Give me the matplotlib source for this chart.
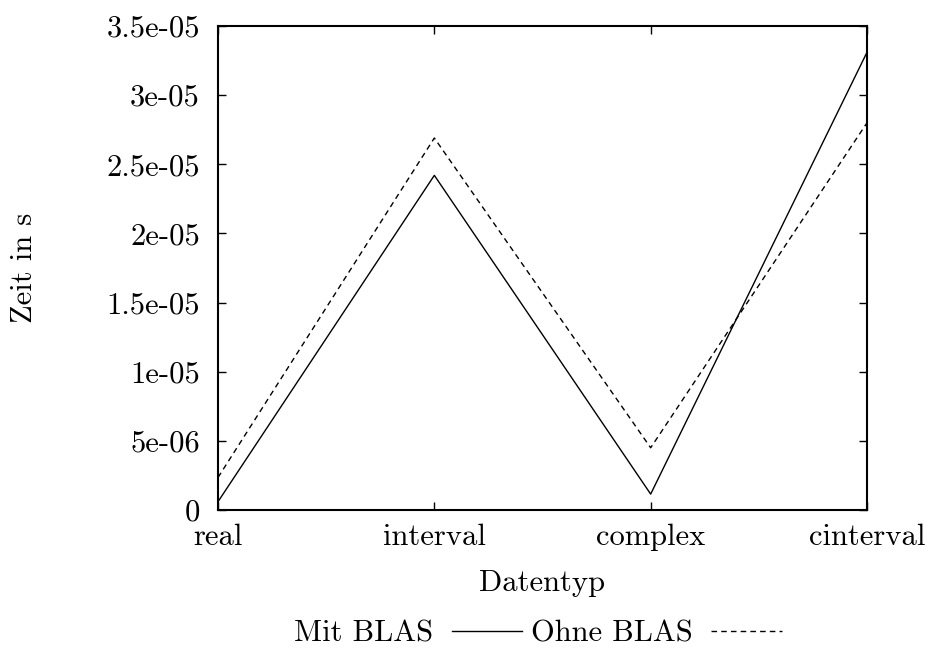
import matplotlib
matplotlib.use("Agg")
import matplotlib.pyplot as plt

categories = ["real", "interval", "complex", "cinterval"]
mit_blas = [0.6e-6, 24.2e-6, 1.15e-6, 33.1e-6]
ohne_blas = [2.35e-6, 26.9e-6, 4.5e-6, 28.0e-6]
ytick_values = [0, 5e-6, 1e-5, 1.5e-5, 2e-5, 2.5e-5, 3e-5, 3.5e-5]
ytick_labels = ["0", "5e-06", "1e-05", "1.5e-05", "2e-05", "2.5e-05", "3e-05", "3.5e-05"]

plt.rcParams['font.family'] = ['cmr10', 'DejaVu Serif']
FS = 22

fig = plt.figure(figsize=(9.25, 6.5), dpi=100)
ax = fig.add_axes([218/925, 1-510/650, 649/925, 484/650])

x = list(range(len(categories)))
ax.plot(x, mit_blas, color='black', lw=1.0, label='Mit BLAS')
ax.plot(x, ohne_blas, color='black', lw=1.0, linestyle=(0, (4, 3)), label='Ohne BLAS')

ax.set_xlim(0, len(categories) - 1)
ax.set_ylim(0, 3.5e-5)
ax.set_xticks(x)
ax.set_xticklabels(categories, fontsize=FS)
ax.set_yticks(ytick_values)
ax.set_yticklabels(ytick_labels, fontsize=FS)
ax.tick_params(axis='both', direction='in', length=6, width=1.0, top=True, right=True)
ax.tick_params(axis='y', pad=13)
ax.tick_params(axis='x', pad=10)
for s in ax.spines.values():
    s.set_linewidth(1.5)

fig.text(542/925, 1-583/650, "Datentyp", ha='center', va='center', fontsize=FS)
fig.text(24/925, 1-268/650, "Zeit in s", ha='center', va='center', rotation=90, fontsize=FS)

leg = fig.legend(loc='center', bbox_to_anchor=(538/925, 1-634/650), ncol=2,
                 frameon=False, markerfirst=False, fontsize=FS,
                 handlelength=2.3, handletextpad=0.6, columnspacing=0.3,
                 borderpad=0, borderaxespad=0)

fig.savefig("out.png", dpi=100)
